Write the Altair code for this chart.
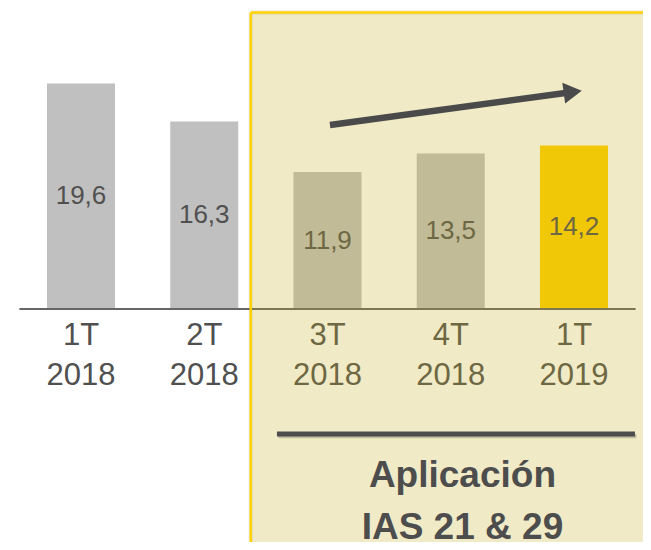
import altair as alt
import pandas as pd

# ---- data ----
quarters = ["1T", "2T", "3T", "4T", "1T"]
years = ["2018", "2018", "2018", "2018", "2019"]
values = [19.6, 16.3, 11.9, 13.5, 14.2]
bar_colors = ["#c0c0c0", "#c0c0c0", "#c0c0c0", "#c0c0c0", "#ffd200"]
note_lines = ["Aplicación", "IAS 21 & 29"]

FONT = "Liberation Sans"
TEXT = "#505050"
DARK = "#4a4a4a"

X_DOMAIN = [-0.5923, 4.560]
Y_DOMAIN = [-20.24, 26.15]
xs = alt.Scale(domain=X_DOMAIN, nice=False, zero=False)
ys = alt.Scale(domain=Y_DOMAIN, nice=False, zero=False)


def X(f):
    return alt.X(f, type="quantitative", scale=xs, axis=None)


def Y(f):
    return alt.Y(f, type="quantitative", scale=ys, axis=None)


n = len(values)
df = pd.DataFrame({"pos": list(range(n)), "q": quarters, "yr": years,
                   "v": values, "c": bar_colors})
df["label"] = [f"{v:.1f}".replace(".", ",") for v in values]
df["x0"] = df.pos - 0.276
df["x1"] = df.pos + 0.276
df["mid"] = df.v / 2
df["zero"] = 0.0
df["qy"] = -3.13
df["yy"] = -6.60

base = alt.Chart(df)

bars = base.mark_rect().encode(
    x=X("x0"), x2="x1", y=Y("zero"), y2="v",
    color=alt.Color("c:N", scale=None))

vals = base.mark_text(font=FONT, fontSize=26, color=TEXT, baseline="middle").encode(
    x=X("pos"), y=Y("mid"), text="label:N")

qlab = base.mark_text(font=FONT, fontSize=31, color=TEXT, baseline="alphabetic").encode(
    x=X("pos"), y=Y("qy"), text="q:N")
ylab = base.mark_text(font=FONT, fontSize=31, color=TEXT, baseline="alphabetic").encode(
    x=X("pos"), y=Y("yy"), text="yr:N")

axis_df = pd.DataFrame({"a": [-0.5], "b": [n - 0.5], "y": [0.0]})
axisline = alt.Chart(axis_df).mark_rule(color="#666666", strokeWidth=2).encode(
    x=X("a"), x2="b", y=Y("y"))

# highlighted region (3T 2018 onwards)
OV_LEFT, OV_TOP = 1.377, 25.76
ov_df = pd.DataFrame({"a": [OV_LEFT], "b": [X_DOMAIN[1]],
                      "t": [OV_TOP], "u": [Y_DOMAIN[0]]})
overlay = alt.Chart(ov_df).mark_rect(
    fill="#c3ab1b", fillOpacity=0.25, strokeWidth=0).encode(
    x=X("a"), x2="b", y=Y("t"), y2="u")
# soft shadow outside the frame
shadow_l = alt.Chart(ov_df).mark_rule(color="#000000", strokeWidth=5, opacity=0.05).encode(
    x=X("a"), y=Y("t"), y2="u")
shadow_t = alt.Chart(ov_df).mark_rule(color="#000000", strokeWidth=5, opacity=0.05).encode(
    x=X("a"), x2="b", y=Y("t"))
border_l = alt.Chart(ov_df).mark_rule(color="#ffd200", strokeWidth=2.5).encode(
    x=X("a"), y=Y("t"), y2="u")
border_t = alt.Chart(ov_df).mark_rule(color="#ffd200", strokeWidth=2.5).encode(
    x=X("a"), x2="b", y=Y("t"))

# trend arrow
arr_df = pd.DataFrame({"x": [2.020, 3.990], "y": [15.99, 18.86]})
arrow_line = alt.Chart(arr_df).mark_line(color=DARK, strokeWidth=6.5).encode(
    x=X("x"), y=Y("y"))
head_df = arr_df.tail(1)
arrow_head = alt.Chart(head_df).mark_point(
    shape="triangle-right", size=441, filled=True, opacity=1,
    angle=352.24, color=DARK).encode(x=X("x"), y=Y("y"))

# bracket line under the highlighted quarters
br_df = pd.DataFrame({"a": [1.590], "b": [4.495], "y": [-10.86]})
sh_df = pd.DataFrame({"a": [1.602], "b": [4.507], "y": [-11.06]})
bracket_sh = alt.Chart(sh_df).mark_rule(color="#8a8470", strokeWidth=4, opacity=0.45).encode(
    x=X("a"), x2="b", y=Y("y"))
bracket = alt.Chart(br_df).mark_rule(color="#4d4d4d", strokeWidth=5).encode(
    x=X("a"), x2="b", y=Y("y"))

note_df = pd.DataFrame({"x": [3.095, 3.095], "y": [-15.44, -19.95], "t": note_lines})
note = alt.Chart(note_df).mark_text(
    font=FONT, fontSize=37, fontWeight="bold", color="#4d4d4d",
    baseline="alphabetic").encode(x=X("x"), y=Y("y"), text="t:N")

chart = alt.layer(
    bars, vals, axisline, qlab, ylab, shadow_l, shadow_t, overlay,
    border_l, border_t, arrow_line, arrow_head, bracket_sh, bracket, note
).properties(
    width=635, height=534, padding=0,
    autosize=alt.AutoSizeParams(type="none")
).configure_view(stroke=None)

chart.save("out.html", embed_options={"renderer": "svg", "actions": False})
